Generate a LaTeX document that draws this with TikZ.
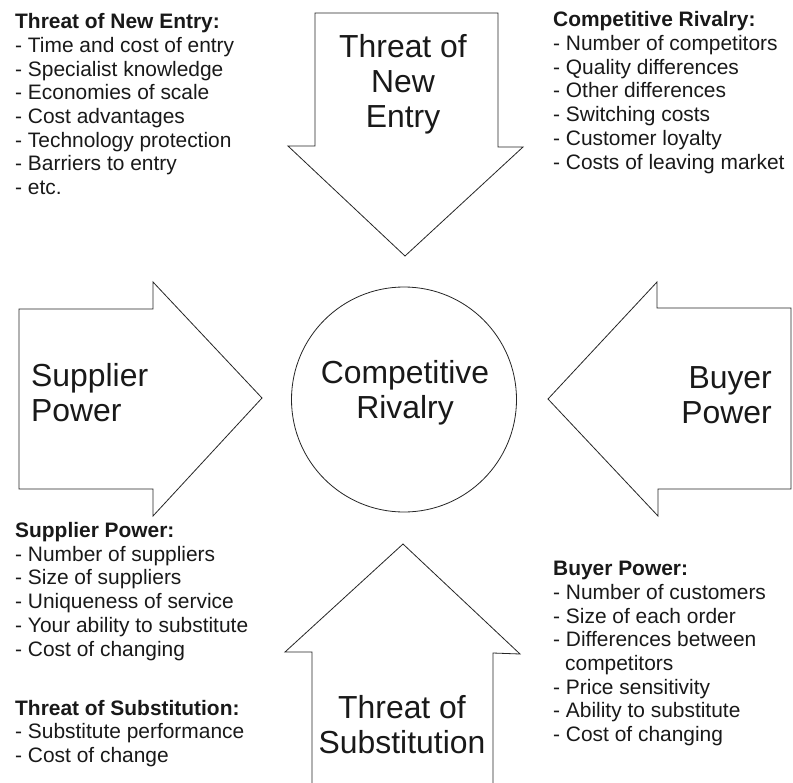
\documentclass[tikz,border=0pt]{standalone}
\usepackage{fontspec}
\setmainfont{Liberation Sans}
\begin{document}
\begin{tikzpicture}[x=1bp,y=-1bp,
  shapeline/.style={draw=black!85, line width=0.8bp, line join=miter},
  small/.style={font=\fontsize{21}{23.8}\selectfont, align=left, inner sep=0pt, anchor=base west, text=black!90},
  big/.style={font=\fontsize{32}{35}\selectfont, inner sep=0pt, text=black!90}]
\useasboundingbox[fill=white] (0,0) rectangle (793,783);

% arrows
\draw[shapeline] (315,13) -- (498,13) -- (498,147) -- (523,147) -- (405,256) -- (288,146) -- (315,146) -- cycle;
\draw[shapeline] (19,309) -- (153,309) -- (153,282) -- (262,398) -- (153,516) -- (153,489) -- (19,489) -- cycle;
\draw[shapeline] (791,308) -- (657,308) -- (657,282) -- (548,399) -- (658,516) -- (658,489) -- (791,489) -- cycle;
\draw[shapeline] (312,783) -- (312,652) -- (285,652) -- (403,544) -- (520,654) -- (493,653) -- (493,783);

% circle
\node[shapeline, circle, minimum size=225bp, inner sep=0pt] (circ) at (404,399.5) {};

% big labels (anchored at the baseline of the last line)
\node[big, align=center, anchor=base] (tneL) at (403,127) {Threat of\\New\\Entry};
\node[big, align=left, anchor=base west] (spL) at (31,421) {Supplier\\Power};
\node[big, align=right, anchor=base east] (bpL) at (772,423) {Buyer\\Power};
\node[big, align=center, anchor=base] (crL) at (405,418) {Competitive\\Rivalry};
\node[big, align=center, anchor=base] (tsL) at (402,753) {Threat of\\Substitution};

% small text blocks (anchored at the baseline of the last line)
\node[small] (tne) at (15,194.6) {\textbf{Threat of New Entry:}\\- Time and cost of entry\\- Specialist knowledge\\- Economies of scale\\- Cost advantages\\- Technology protection\\- Barriers to entry\\- etc.};
\node[small] (cr) at (553,169) {\textbf{Competitive Rivalry:}\\- Number of competitors\\- Quality differences\\- Other differences\\- Switching costs\\- Customer loyalty\\- Costs of leaving market};
\node[small] (sp) at (15,656) {\textbf{Supplier Power:}\\- Number of suppliers\\- Size of suppliers\\- Uniqueness of service\\- Your ability to substitute\\- Cost of changing};
\node[small] (ts) at (15,762.6) {\textbf{Threat of Substitution:}\\- Substitute performance\\- Cost of change};
\node[small] (bp) at (553,741.6) {\textbf{Buyer Power:}\\- Number of customers\\- Size of each order\\- Differences between\\\hspace*{12bp}competitors\\- Price sensitivity\\- Ability to substitute\\- Cost of changing};
\end{tikzpicture}
\end{document}
